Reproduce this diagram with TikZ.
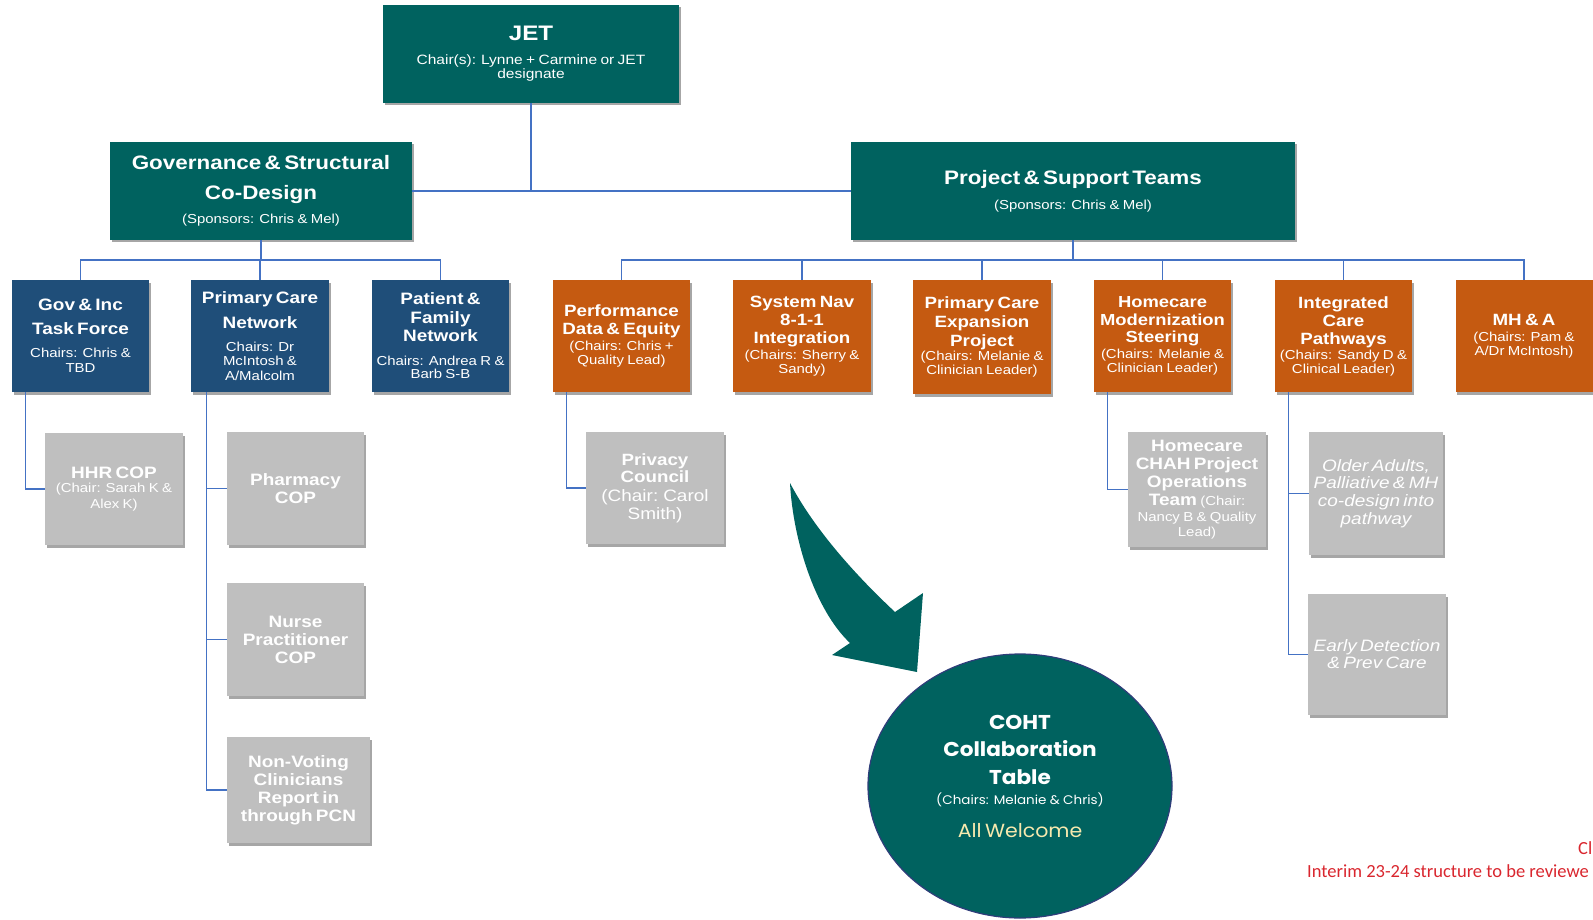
\documentclass[tikz,border=0pt]{standalone}
\usepackage{fontspec}
\setmainfont[FakeStretch=1.15]{Liberation Sans}
\newfontfamily\circfont[FakeStretch=1.08]{Poppins}
\newfontfamily\notefont{Carlito}
\usetikzlibrary{shapes.geometric,shadows}
\definecolor{tealc}{HTML}{00625F}
\definecolor{bluec}{HTML}{1F4E79}
\definecolor{orangec}{HTML}{C55A11}
\definecolor{greyc}{HTML}{BFBFBF}
\definecolor{linkc}{HTML}{4472C4}
\definecolor{navyc}{HTML}{2F3D7A}
\definecolor{redc}{HTML}{D9262E}
\definecolor{creamc}{HTML}{F7E9AE}
\newcommand\ftb[2]{\fontsize{#1}{#2}\selectfont\bfseries\upshape}
\newcommand\ftr[2]{\fontsize{#1}{#2}\selectfont\mdseries\upshape}
\newcommand\fti[2]{\fontsize{#1}{#2}\selectfont\mdseries\itshape}
\begin{document}
\begin{tikzpicture}[x=1pt,y=-1pt,
  box/.style={inner xsep=2pt, inner ysep=0pt, text=white,
    drop shadow={shadow xshift=1.5pt, shadow yshift=-2.5pt, opacity=0.35, fill=black}},
  tealbox/.style={box, fill=tealc},
  bluebox/.style={box, fill=bluec, minimum height=112pt, text width=133pt},
  orangebox/.style={box, fill=orangec, minimum height=112pt, text width=133pt},
  greybox/.style={box, fill=greyc},
  link/.style={draw=linkc, line width=1.2pt},
  cohtshape/.style={ellipse, fill=tealc, draw=navyc, line width=1.2pt, inner sep=0pt},
  notetext/.style={anchor=base west, inner sep=0pt, text=redc, font=\notefont\fontsize{18.5}{20}\selectfont}
]
\useasboundingbox (0,0) rectangle (1593,920);

% top level
\node[tealbox, minimum height=98pt, text width=292pt] (jet) at (531,54)
  {\centering\ftb{21}{26}JET\\[9.8pt]\ftr{13.5}{14}Chair(s): Lynne + Carmine or JET\\designate\par};
\node[tealbox, minimum height=98pt, text width=298pt] (gov) at (261,191)
  {\centering\ftb{19.5}{30}Governance \& Structural\\Co-Design\\[9.65pt]\ftr{13}{14}(Sponsors: Chris \& Mel)\par};
\node[tealbox, minimum height=98pt, text width=440pt] (proj) at (1073,191)
  {\centering\ftb{19.5}{30}Project \& Support Teams\\[10.65pt]\ftr{13}{14}(Sponsors: Chris \& Mel)\par};

% blue row
\node[bluebox] (gi) at (80.5,336)
  {\centering\ftb{16.5}{24}Gov \& Inc\\Task Force\\[7.75pt]\ftr{13}{15}Chairs: Chris \&\\TBD\par};
\node[bluebox, text width=134pt] (pcn) at (260,336)
  {\centering\ftb{16.5}{25}Primary Care\\Network\\[8.25pt]\ftr{13}{14.5}Chairs: Dr\\McIntosh \&\\A/Malcolm\par};
\node[bluebox] (pfn) at (440.5,336)
  {\centering\ftb{16.5}{18.5}Patient \&\\Family\\Network\\[10pt]\ftr{13}{13.5}Chairs: Andrea R \&\\Barb S-B\par};

% orange row
\node[orangebox] (perf) at (621.5,336)
  {\centering\ftb{16.3}{18}Performance\\Data \& Equity\\[1.5pt]\ftr{13}{14.5}(Chairs: Chris +\\Quality Lead)\par};
\node[orangebox, text width=134pt] (sysnav) at (802,336)
  {\centering\ftb{16.3}{18}System Nav\\8-1-1\\Integration\\[1.75pt]\ftr{13}{14}(Chairs: Sherry \&\\Sandy)\par};
\node[orangebox, text width=134pt, minimum height=114pt] (pce) at (982,337)
  {\centering\ftb{16.3}{19}Primary Care\\Expansion\\Project\\\ftr{13}{14}(Chairs: Melanie \&\\Clinician Leader)\par};
\node[orangebox] (hmc) at (1162.5,336)
  {\centering\ftb{16}{17.5}Homecare\\Modernization\\Steering\\[2.5pt]\ftr{13}{13.5}(Chairs: Melanie \&\\Clinician Leader)\par};
\node[orangebox] (icp) at (1343.5,336)
  {\centering\ftb{16.3}{18}Integrated\\Care\\Pathways\\[2pt]\ftr{13}{13.5}(Chairs: Sandy D \&\\Clinical Leader)\par};
\node[orangebox] (mha) at (1524,336)
  {\centering\ftb{16.3}{18}MH \& A\\[1.75pt]\ftr{13}{14}(Chairs: Pam \&\\A/Dr McIntosh)\par};

% grey boxes
\node[greybox, minimum height=112pt, text width=134pt] (hhr) at (114,489)
  {\centering\ftb{16.5}{18}HHR COP\\[-1.25pt]\ftr{13}{16}(Chair: Sarah K \&\\Alex K)\par};
\node[greybox, minimum height=113pt, text width=133pt] (pharm) at (295.5,488.5)
  {\centering\ftb{16.5}{18}Pharmacy\\COP\par};
\node[greybox, minimum height=113pt, text width=133pt] (np) at (295.5,639.5)
  {\centering\ftb{16.5}{18}Nurse\\Practitioner\\COP\par};
\node[greybox, minimum height=106pt, text width=139pt] (nv) at (298.5,790)
  {\centering\ftb{16.5}{18}Non-Voting\\Clinicians\\Report in\\through PCN\par};
\node[greybox, minimum height=112pt, text width=134pt] (priv) at (655,488)
  {\centering\ftb{16.3}{17}Privacy\\Council\\[1pt]\ftr{16.5}{18}(Chair: Carol\\Smith)\par};
\node[greybox, minimum height=115pt, text width=134pt] (chah) at (1197,489.5)
  {\centering\ftb{16.5}{18}Homecare\\CHAH Project\\Operations\\Team {\ftr{13}{18}(Chair:}\\[0.75pt]\ftr{13}{15}Nancy B \& Quality\\Lead)\par};
\node[greybox, minimum height=123pt, text width=130pt] (older) at (1376,493.5)
  {\centering\fti{16.5}{17.7}Older Adults,\\Palliative \& MH\\co-design into\\pathway\par};
\node[greybox, minimum height=121pt, text width=134pt] (early) at (1377,654.5)
  {\centering\fti{16.5}{17}Early Detection\\\& Prev Care\par};

% connectors
\draw[link] (jet.south) -- (jet.south |- gov.east);
\draw[link] (gov.east) -- (proj.west);
\coordinate (gbus) at (261,260);
\draw[link] (gov.south) -- (gbus);
\draw[link] (gi.north) -- (gi.north |- gbus) -- (pfn.north |- gbus) -- (pfn.north);
\draw[link] (pcn.north) -- (pcn.north |- gbus);
\coordinate (pbus) at (1073,260);
\draw[link] (proj.south) -- (pbus);
\draw[link] (perf.north) -- (perf.north |- pbus) -- (mha.north |- pbus) -- (mha.north);
\foreach \n in {sysnav,pce,hmc,icp} \draw[link] (\n.north) -- (\n.north |- pbus);

\coordinate (gil) at ([xshift=13.5pt]gi.south west);
\draw[link] (gil) |- (hhr.west);
\coordinate (pcnl) at ([xshift=16pt]pcn.south west);
\draw[link] (pcnl) |- (nv.west);
\draw[link] (pcnl |- pharm.west) -- (pharm.west);
\draw[link] (pcnl |- np.west) -- (np.west);
\coordinate (perfl) at ([xshift=14pt]perf.south west);
\draw[link] (perfl) |- (priv.west);
\coordinate (hmcl) at ([xshift=14pt]hmc.south west);
\draw[link] (hmcl) |- (chah.west);
\coordinate (icpl) at ([xshift=14pt]icp.south west);
\draw[link] (icpl) |- (early.west);
\draw[link] (icpl |- older.west) -- (older.west);

% collaboration table
\node[cohtshape, minimum width=304pt, minimum height=264pt] (coht) at (1020,786) {};
\fill[tealc] (790,483) .. controls (793,540) and (815,610) .. (850,643) -- (832,655)
  -- (917,672) -- (923,593) -- (895,612) .. controls (850,570) and (812,525) .. (790,483) -- cycle;
\node[text width=280pt, inner sep=0pt, text=white] (cohtlbl) at (1020,776)
  {\centering\circfont\ftb{20}{27.5}COHT\\Collaboration\\Table\\[5.4pt]\ftr{12.5}{15}(Chairs: Melanie \& Chris)\\[15.2pt]{\color{creamc}\ftr{19}{22}All Welcome}\par};

% notes
\node[notetext] (note1) at (1578,854) {Cl};
\node[notetext] (note2) at (1307,877) {Interim 23-24 structure to be reviewe};
\end{tikzpicture}
\end{document}
